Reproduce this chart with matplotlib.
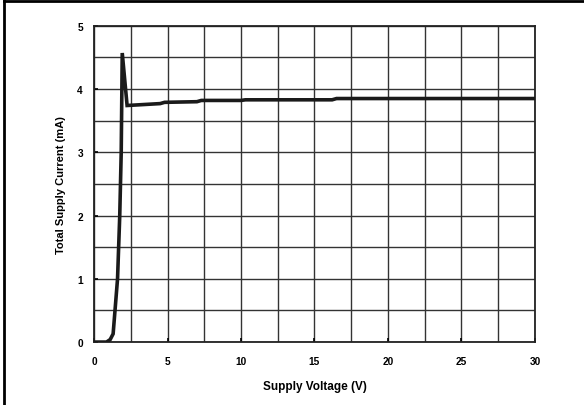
import matplotlib
matplotlib.use("Agg")
import matplotlib.pyplot as plt
from matplotlib.lines import Line2D
import numpy as np

# supply voltage (V) and total supply current (mA)
voltage = [0, 0.85, 1.1, 1.3, 1.6, 1.75, 1.85, 1.92, 2.25, 3.0, 4.5, 4.8,
           7.0, 7.3, 10.0, 10.3, 16.2, 16.5, 30]
current = [0, 0, 0.04, 0.13, 1.0, 2.0, 3.0, 4.57, 3.74, 3.75, 3.77, 3.79,
           3.80, 3.82, 3.82, 3.83, 3.83, 3.85, 3.85]

x_ticks = [0, 5, 10, 15, 20, 25, 30]
y_ticks = [0, 1, 2, 3, 4, 5]

plt.rcParams['font.family'] = ['Liberation Sans', 'DejaVu Sans']

fig = plt.figure(figsize=(5.84, 4.06), dpi=100)
ax = fig.add_axes([0.161, 0.155, 0.755, 0.779])

ax.plot(voltage, current, color='#1a1a1a', linewidth=2.6, solid_joinstyle='miter', zorder=3)

ax.set_xlim(0, 30)
ax.set_ylim(0, 5)
ax.set_xticks(x_ticks)
ax.set_yticks(y_ticks)
ax.set_xticks(np.arange(0, 30.1, 2.5), minor=True)
ax.set_yticks(np.arange(0, 5.01, 0.5), minor=True)
ax.grid(which='both', color='#333333', linewidth=1.0)
ax.tick_params(which='major', direction='in', length=3, width=1.2, labelsize=7.3)
ax.tick_params(axis='x', pad=10)
ax.tick_params(axis='y', pad=8)
ax.tick_params(which='minor', length=0)
for lbl in ax.get_xticklabels() + ax.get_yticklabels():
    lbl.set_fontweight('bold')
for s in ax.spines.values():
    s.set_linewidth(1.3)
    s.set_color('#222222')

ax.set_xlabel('Supply Voltage (V)', fontsize=8.5, fontweight='bold', labelpad=10)
ax.set_ylabel('Total Supply Current (mA)', fontsize=8, fontweight='bold', labelpad=8)

# frame lines around the figure (top and left, as in the cropped reference)
fig.add_artist(Line2D([0.006, 1.0], [0.995, 0.995], transform=fig.transFigure, color='black', linewidth=2))
fig.add_artist(Line2D([0.006, 0.006], [0.0, 0.995], transform=fig.transFigure, color='black', linewidth=2))

fig.savefig('out.png', dpi=100)
